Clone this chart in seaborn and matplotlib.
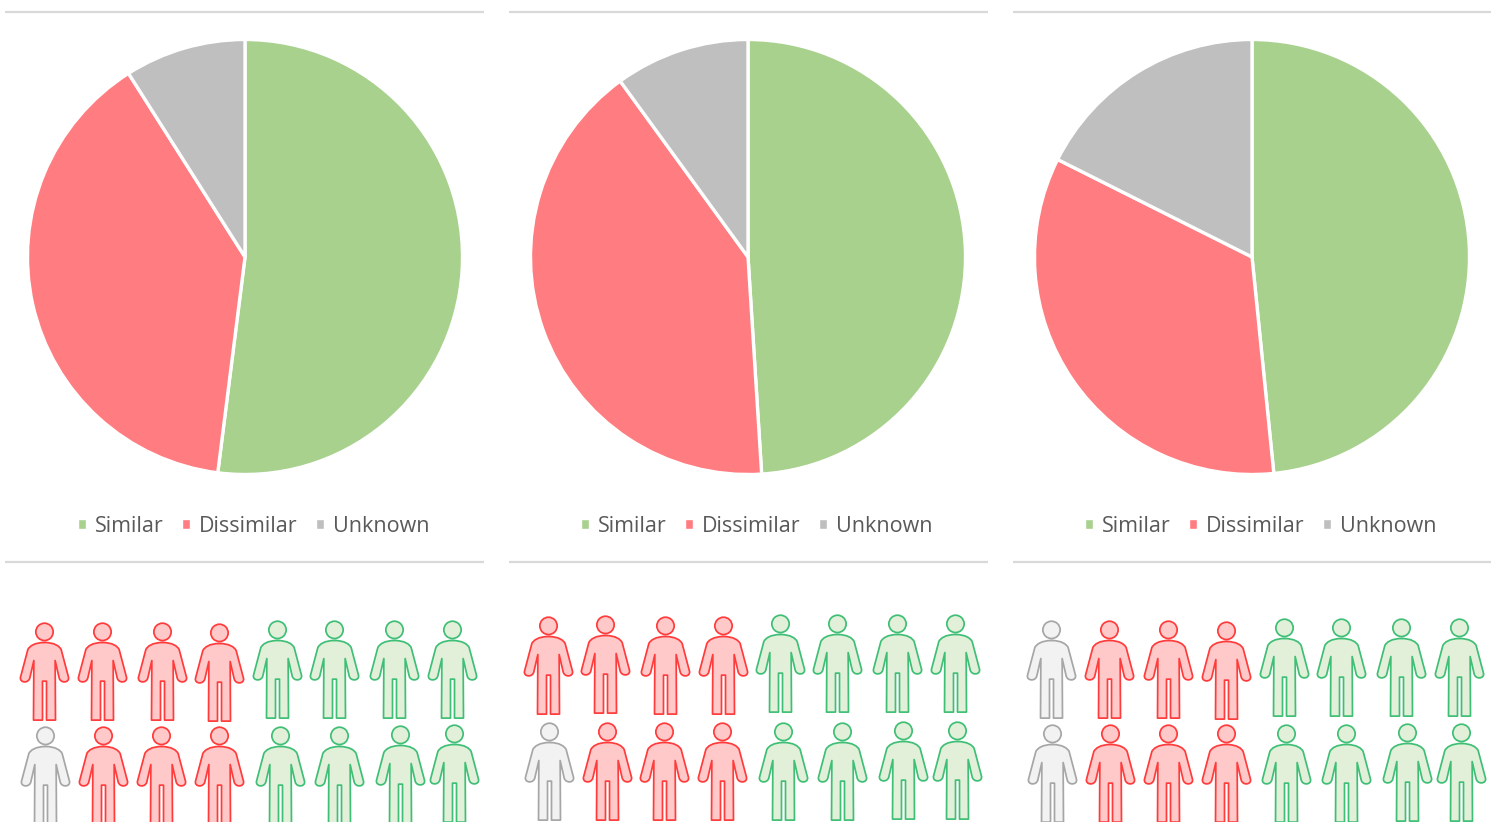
import numpy as np
import pandas as pd
import matplotlib
matplotlib.use('Agg')
import matplotlib.pyplot as plt
import seaborn as sns
from matplotlib.patches import Patch
from matplotlib.path import Path

labels = ['Similar', 'Dissimilar', 'Unknown']
pie_1 = [52.0, 39.0, 9.0]
pie_2 = [49.0, 41.0, 10.0]
pie_3 = [48.4, 34.0, 17.6]

# who is who in the pictograms, row by row
people_1 = ['Dissimilar'] * 4 + ['Similar'] * 4 + ['Unknown'] + ['Dissimilar'] * 3 + ['Similar'] * 4
people_2 = ['Dissimilar'] * 4 + ['Similar'] * 4 + ['Unknown'] + ['Dissimilar'] * 3 + ['Similar'] * 4
people_3 = (['Unknown'] + ['Dissimilar'] * 3 + ['Similar'] * 4) * 2

# head positions in image pixels
head_x_1 = [44, 102, 162, 219, 277, 334, 394, 452, 45, 103, 161, 219, 280, 339, 400, 454]
head_y_1 = [631, 631, 631, 632, 629, 629, 629, 629, 735, 735, 735, 735, 735, 735, 734, 733]
head_x_2 = [548, 605, 665, 723, 780, 837, 897, 955, 549, 607, 664, 722, 783, 842, 903, 957]
head_y_2 = [625, 624, 625, 625, 623, 623, 623, 623, 731, 731, 731, 731, 731, 731, 730, 730]
head_x_3 = [1051, 1109, 1168, 1226, 1284, 1341, 1401, 1459, 1052, 1110, 1168, 1226, 1286, 1346, 1407, 1461]
head_y_3 = [629, 629, 629, 630, 627, 627, 627, 627, 733, 733, 733, 733, 733, 733, 732, 732]

pie_colors = {'Similar': '#A9D18E', 'Dissimilar': '#FF7C80', 'Unknown': '#BFBFBF'}
fill_colors = {'Similar': '#E2F0D9', 'Dissimilar': '#FFC9C9', 'Unknown': '#F2F2F2'}
edge_colors = {'Similar': '#3FBF75', 'Dissimilar': '#FF3B3B', 'Unknown': '#A6A6A6'}


def person_marker():
    # right half of the body, mirrored for the left half
    C4, L = Path.CURVE4, Path.LINETO
    right = [((30, 87), C4), ((45, 76), C4), ((50, 66), C4),
             ((72, -17), L),
             ((76, -34), C4), ((48, -37), C4), ((44, -19), C4),
             ((32, 33), L), ((33, -146), L), ((6, -146), L), ((6, -29), L)]
    top = (0, 87)
    pts = [p for p, c in right]
    codes = [c for p, c in right]
    # walking back up the other side, the segment codes come in reverse order
    mirrored = [(-x, y) for x, y in pts][::-1]
    body = Path([top] + pts + mirrored + [top, top],
                [Path.MOVETO] + codes + [L] + codes[::-1] + [Path.CLOSEPOLY])
    head = Path.circle((0, 119), 26)
    return Path.make_compound_path(body, head)


sns.set_theme(style='white')
plt.rcParams['font.family'] = ['Open Sans', 'DejaVu Sans']

fig = plt.figure(figsize=(14.98, 8.22), dpi=100)
ax = fig.add_axes([0, 0, 1, 1])

panels = [
    (pie_1, people_1, head_x_1, head_y_1, 245, 5, 484, 254),
    (pie_2, people_2, head_x_2, head_y_2, 748, 509, 988, 756.5),
    (pie_3, people_3, head_x_3, head_y_3, 1252, 1013, 1491, 1260.5),
]
marker = person_marker()

for values, people, hx, hy, cx, x0, x1, leg_x in panels:
    # y axis runs downwards, so counterclock here reads clockwise on screen
    ax.pie(values, colors=[pie_colors[k] for k in labels], center=(cx, 257), radius=217.5,
           startangle=-90, counterclock=True,
           wedgeprops={'edgecolor': 'white', 'linewidth': 2.4})

    df = pd.DataFrame({'group': people, 'x': hx, 'y': np.array(hy) + 39.7})
    for group, sub in df.groupby('group'):
        sns.scatterplot(data=sub, x='x', y='y', ax=ax, marker=marker, s=4900,
                        color=fill_colors[group], edgecolor=edge_colors[group],
                        linewidth=1.25, legend=False)

    ax.hlines([12, 562], x0, x1, color='#D9D9D9', lw=1.6)

    handles = [Patch(facecolor=pie_colors[k], label=k) for k in labels]
    leg = ax.legend(handles=handles, ncol=3, loc='center', frameon=False,
                    bbox_to_anchor=(leg_x, 526), bbox_transform=ax.transData,
                    fontsize=15.5, labelcolor='#595959', handlelength=0.37, handleheight=0.37,
                    handletextpad=0.42, columnspacing=0.85, borderpad=0, borderaxespad=0)
    ax.add_artist(leg)
    ax.legend_ = None  # otherwise the last one gets drawn twice

ax.set_xlim(0, 1498)
ax.set_ylim(822, 0)
ax.set_aspect('auto')
ax.set_xlabel('')
ax.set_ylabel('')
ax.axis('off')

fig.savefig('out.png', dpi=100, facecolor='white')
